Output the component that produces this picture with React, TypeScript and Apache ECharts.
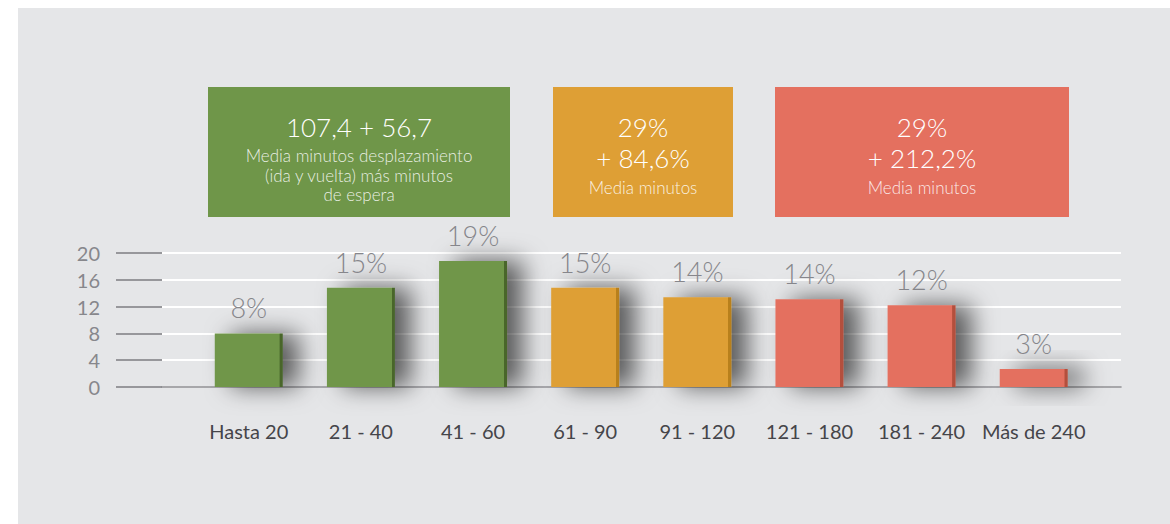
import React, { useEffect, useRef } from "react";
import * as echarts from "echarts";

const categories = ["Hasta 20", "21 - 40", "41 - 60", "61 - 90", "91 - 120", "121 - 180", "181 - 240", "Más de 240"];
const barValues = [8, 14.8, 18.8, 14.8, 13.4, 13.1, 12.2, 2.7];
const barLabels = ["8%", "15%", "19%", "15%", "14%", "14%", "12%", "3%"];
const barGroups = [0, 0, 0, 1, 1, 2, 2, 2];
const yMin = 0;
const yMax = 20;
const yInterval = 4;
const boxTitles = [["107,4 + 56,7"], ["29%", "+ 84,6%"], ["29%", "+ 212,2%"]];
const boxSubtitles = [
  ["Media minutos desplazamiento", "(ida y vuelta) más minutos", "de espera"],
  ["Media minutos"],
  ["Media minutos"],
];

const GROUP_COLORS = ["#6f9649", "#de9f35", "#e4705f"];
const GROUP_EDGE = ["#48662c", "#b8801f", "#b4503e"];
const FONT = "Lato, 'Open Sans', sans-serif";

const BOXES = [
  { x: 208, y: 87, w: 302, h: 130, subY: 146, subLH: 19.5 },
  { x: 553, y: 87, w: 180, h: 130, subY: 178, subLH: 19 },
  { x: 775, y: 87, w: 294, h: 130, subY: 178, subLH: 19 },
];

export default function App() {
  const ref = useRef<HTMLDivElement>(null);
  useEffect(() => {
    if (!ref.current) return;
    const chart = echarts.init(ref.current, undefined, { renderer: "svg" });

    const graphics: any[] = [
      {
        type: "rect",
        z: -10,
        silent: true,
        shape: { x: 18, y: 8, width: 1152, height: 516 },
        style: { fill: "#e5e6e8" },
      },
    ];
    BOXES.forEach((b, i) => {
      graphics.push({
        type: "rect",
        z: 1,
        shape: { x: b.x, y: b.y, width: b.w, height: b.h },
        style: { fill: GROUP_COLORS[i] },
      });
      boxTitles[i].forEach((t, k) => {
        graphics.push({
          type: "text",
          z: 2,
          x: b.x + b.w / 2,
          y: 126.5 + k * 31.5,
          style: {
            text: t,
            fill: "#ffffff",
            font: `300 26px ${FONT}`,
            textAlign: "center",
            textVerticalAlign: "middle",
          },
        });
      });
      graphics.push({
        type: "text",
        z: 2,
        x: b.x + b.w / 2,
        y: b.subY,
        style: {
          text: boxSubtitles[i].join("\n"),
          fill: "rgba(255,255,255,0.86)",
          font: `300 17px ${FONT}`,
          lineHeight: b.subLH,
          textAlign: "center",
          textVerticalAlign: "top",
        },
      });
    });

    const option: any = {
      animation: false,
      backgroundColor: "#ffffff",
      textStyle: { fontFamily: FONT },
      graphic: graphics,
      grid: [
        { left: 162, right: 49, top: 253, bottom: 137 },
        { left: 192.7, right: 80.2, top: 253, bottom: 137 },
      ],
      xAxis: [
        {
          gridIndex: 0,
          type: "value",
          min: 0,
          max: 1,
          axisLine: { show: true, lineStyle: { color: "#8a8a8f", width: 1.5 } },
          axisTick: { show: false },
          axisLabel: { show: false },
          splitLine: { show: false },
        },
        {
          gridIndex: 1,
          type: "category",
          data: categories,
          axisLine: { show: false },
          axisTick: { show: false },
          axisLabel: { color: "#45454a", fontSize: 20, margin: 34, fontFamily: FONT, interval: 0 },
        },
      ],
      yAxis: [
        {
          gridIndex: 0,
          type: "value",
          min: yMin,
          max: yMax,
          interval: yInterval,
          axisLine: { show: false },
          axisTick: { show: true, length: 46, lineStyle: { color: "#7d7d82", width: 1.5 } },
          axisLabel: { color: "#87878c", fontSize: 20, margin: 62, fontFamily: FONT },
          splitLine: { show: true, lineStyle: { color: "#ffffff", width: 2 } },
        },
        {
          gridIndex: 1,
          type: "value",
          min: yMin,
          max: yMax,
          interval: yInterval,
          show: false,
        },
      ],
      series: [
        {
          type: "bar",
          xAxisIndex: 1,
          yAxisIndex: 1,
          barWidth: 68,
          z: 3,
          data: barValues.map((v, i) => {
            const g = barGroups[i];
            return {
              value: v,
              itemStyle: {
                color: {
                  type: "linear",
                  x: 0,
                  y: 0,
                  x2: 1,
                  y2: 0,
                  colorStops: [
                    { offset: 0, color: GROUP_COLORS[g] },
                    { offset: 0.95, color: GROUP_COLORS[g] },
                    { offset: 0.955, color: GROUP_EDGE[g] },
                    { offset: 1, color: GROUP_EDGE[g] },
                  ],
                },
                shadowColor: "rgba(0,0,0,0.6)",
                shadowBlur: 24,
                shadowOffsetX: 16,
                shadowOffsetY: 0,
              },
            };
          }),
          label: {
            show: true,
            position: "top",
            distance: 12,
            color: "#86868b",
            fontSize: 27,
            fontWeight: 300,
            fontFamily: FONT,
            formatter: (p: any) => barLabels[p.dataIndex],
          },
        },
      ],
    };
    chart.setOption(option);
    return () => chart.dispose();
  }, []);
  return (
    <div
      ref={ref}
      style={{ position: "fixed", left: 0, top: 0, width: 1170, height: 524 }}
    />
  );
}
